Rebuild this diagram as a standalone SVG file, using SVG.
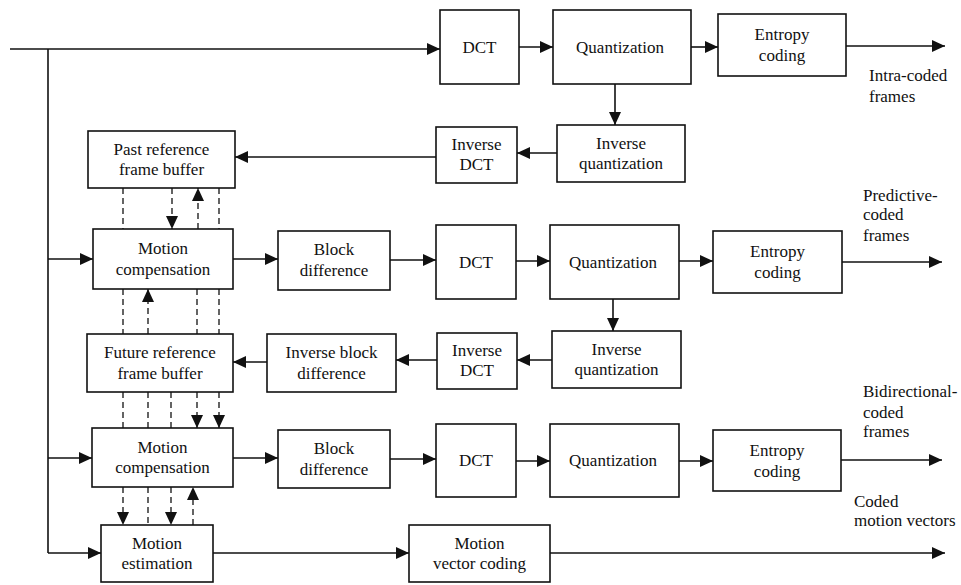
<svg xmlns="http://www.w3.org/2000/svg" width="961" height="585" viewBox="0 0 961 585">
<defs>
<marker id="ah" markerUnits="userSpaceOnUse" markerWidth="14" markerHeight="12" refX="13" refY="6" orient="auto">
<path d="M0,0 L13,6 L0,12 z" fill="#111"/>
</marker>
<style>
.b{fill:#fff;stroke:#111;stroke-width:1.6}
text{font-size:17px;fill:#111}
.c{text-anchor:middle}
.l{stroke:#111;stroke-width:1.6;fill:none}
.a{marker-end:url(#ah)}
.d{stroke:#111;stroke-width:1.3;fill:none;stroke-dasharray:6 4}
</style>
</defs>
<rect width="961" height="585" fill="#fff"/>
<g id="connectors">
<path class="l a" d="M10,49 H440"/>
<path class="l" d="M48,49 V553"/>
<path class="l a" d="M519,47 H553"/>
<path class="l a" d="M691,47 H718"/>
<path class="l a" d="M846,46 H945"/>
<path class="l a" d="M615,84 V125"/>
<path class="l a" d="M557,153 H517"/>
<path class="l a" d="M436,157 H235"/>
<path class="l a" d="M48,259 H93"/>
<path class="l a" d="M233,259 H278"/>
<path class="l a" d="M390,260 H436"/>
<path class="l a" d="M516,261 H550"/>
<path class="l a" d="M679,261 H713"/>
<path class="l a" d="M842,262 H942"/>
<path class="l a" d="M613,299 V331"/>
<path class="l a" d="M552,360 H517"/>
<path class="l a" d="M437,360 H396"/>
<path class="l a" d="M267,362 H233"/>
<path class="l a" d="M48,458 H92"/>
<path class="l a" d="M233,458 H278"/>
<path class="l a" d="M390,459 H436"/>
<path class="l a" d="M516,461 H550"/>
<path class="l a" d="M679,461 H713"/>
<path class="l a" d="M841,460 H942"/>
<path class="l a" d="M48,553 H101"/>
<path class="l a" d="M213,553 H409"/>
<path class="l a" d="M550,553 H945"/>
<path class="d" d="M123,188 V229"/>
<path class="d a" d="M172,188 V229"/>
<path class="d a" d="M198,229 V188"/>
<path class="d" d="M219,188 V229"/>
<path class="d" d="M123,289 V334"/>
<path class="d a" d="M148,334 V289"/>
<path class="d" d="M197,289 V334"/>
<path class="d" d="M219,289 V334"/>
<path class="d" d="M123,392 V428"/>
<path class="d" d="M148,392 V428"/>
<path class="d" d="M171,392 V428"/>
<path class="d a" d="M197,392 V428"/>
<path class="d a" d="M219,392 V428"/>
<path class="d a" d="M123,487 V525"/>
<path class="d" d="M148,487 V525"/>
<path class="d a" d="M171,487 V525"/>
<path class="d a" d="M193,525 V487"/>
</g>
<g font-family="'Liberation Serif', 'Times New Roman', 'DejaVu Serif', serif">
<g id="dct1"><rect class="b" x="440" y="10" width="79" height="74"/><text class="c" x="479.5" y="53">DCT</text></g>
<g id="quant1"><rect class="b" x="553" y="10" width="138" height="74"/><text class="c" x="620" y="53">Quantization</text></g>
<g id="ent1"><rect class="b" x="718" y="14" width="128" height="62"/><text class="c" x="782" y="40">Entropy</text><text class="c" x="782" y="61">coding</text></g>
<g id="iquant1"><rect class="b" x="557" y="125" width="128" height="57"/><text class="c" x="621" y="149">Inverse</text><text class="c" x="621" y="169">quantization</text></g>
<g id="idct1"><rect class="b" x="436" y="127" width="81" height="56"/><text class="c" x="476.5" y="150">Inverse</text><text class="c" x="476.5" y="170">DCT</text></g>
<g id="past"><rect class="b" x="88" y="131" width="147" height="57"/><text class="c" x="161.5" y="155">Past reference</text><text class="c" x="161.5" y="175">frame buffer</text></g>
<g id="mc1"><rect class="b" x="93" y="229" width="140" height="60"/><text class="c" x="163" y="254">Motion</text><text class="c" x="163" y="275">compensation</text></g>
<g id="bd1"><rect class="b" x="278" y="231" width="112" height="59"/><text class="c" x="334" y="255">Block</text><text class="c" x="334" y="276">difference</text></g>
<g id="dct2"><rect class="b" x="436" y="225" width="80" height="74"/><text class="c" x="476" y="268">DCT</text></g>
<g id="quant2"><rect class="b" x="550" y="225" width="129" height="74"/><text class="c" x="613" y="268">Quantization</text></g>
<g id="ent2"><rect class="b" x="713" y="231" width="129" height="62"/><text class="c" x="777.5" y="257">Entropy</text><text class="c" x="777.5" y="278">coding</text></g>
<g id="iquant2"><rect class="b" x="552" y="331" width="129" height="57"/><text class="c" x="616.5" y="355">Inverse</text><text class="c" x="616.5" y="375">quantization</text></g>
<g id="idct2"><rect class="b" x="437" y="333" width="80" height="56"/><text class="c" x="477" y="356">Inverse</text><text class="c" x="477" y="376">DCT</text></g>
<g id="ibd"><rect class="b" x="267" y="334" width="129" height="58"/><text class="c" x="331.5" y="358">Inverse block</text><text class="c" x="331.5" y="379">difference</text></g>
<g id="future"><rect class="b" x="87" y="334" width="146" height="58"/><text class="c" x="160" y="358">Future reference</text><text class="c" x="160" y="379">frame buffer</text></g>
<g id="mc2"><rect class="b" x="92" y="428" width="141" height="59"/><text class="c" x="162.5" y="453">Motion</text><text class="c" x="162.5" y="473">compensation</text></g>
<g id="bd2"><rect class="b" x="278" y="430" width="112" height="58"/><text class="c" x="334" y="454">Block</text><text class="c" x="334" y="475">difference</text></g>
<g id="dct3"><rect class="b" x="436" y="424" width="80" height="73"/><text class="c" x="476" y="466">DCT</text></g>
<g id="quant3"><rect class="b" x="550" y="424" width="129" height="73"/><text class="c" x="613" y="466">Quantization</text></g>
<g id="ent3"><rect class="b" x="713" y="430" width="128" height="61"/><text class="c" x="777" y="456">Entropy</text><text class="c" x="777" y="477">coding</text></g>
<g id="me"><rect class="b" x="101" y="525" width="112" height="57"/><text class="c" x="157" y="549">Motion</text><text class="c" x="157" y="569">estimation</text></g>
<g id="mvc"><rect class="b" x="409" y="525" width="141" height="57"/><text class="c" x="479.5" y="549">Motion</text><text class="c" x="479.5" y="569">vector coding</text></g>
<g id="labels">
<text x="869" y="81">Intra-coded</text><text x="869" y="102">frames</text>
<text x="863" y="201">Predictive-</text><text x="863" y="220">coded</text><text x="863" y="241">frames</text>
<text x="863" y="397">Bidirectional-</text><text x="863" y="418">coded</text><text x="863" y="437">frames</text>
<text x="854" y="507">Coded</text><text x="854" y="526">motion vectors</text>
</g>
</g>
</svg>
